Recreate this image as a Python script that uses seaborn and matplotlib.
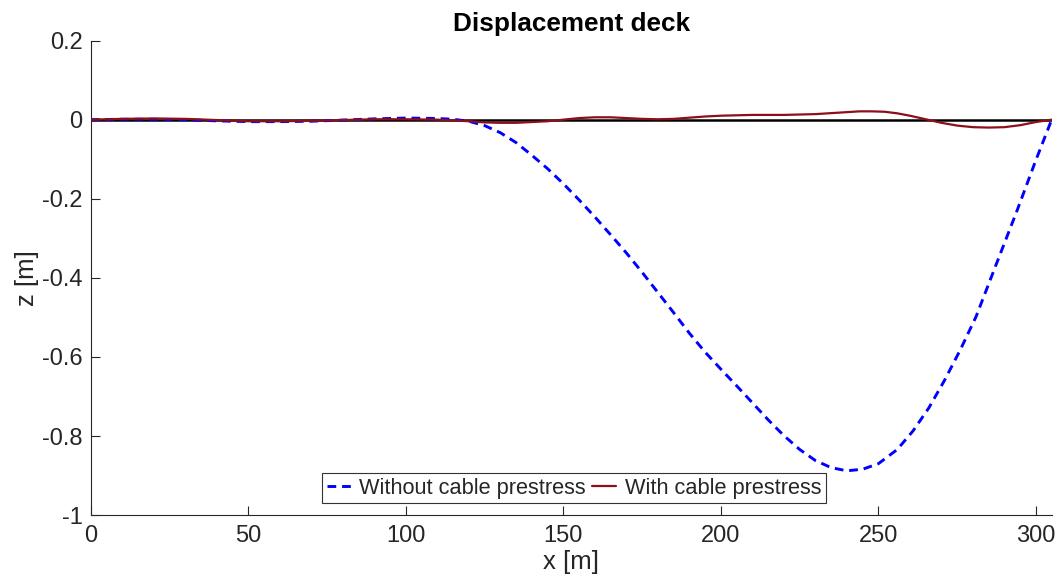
import matplotlib
matplotlib.use("Agg")
import matplotlib.pyplot as plt
import pandas as pd
import seaborn as sns

# Deck positions along the span [m] and vertical displacement [m]
x_no_prestress = [0, 10, 20, 30, 40, 50, 60, 70, 80, 90, 100, 110, 115, 120, 125,
                  130, 135, 140, 145, 150, 155, 160, 165, 170, 175, 180, 185, 190,
                  195, 200, 205, 210, 215, 220, 225, 230, 235, 240, 245, 250, 256,
                  261, 266, 271, 276, 281, 287, 294, 300, 305]
z_no_prestress = [0.0, 0.001, 0.001, 0.0, -0.003, -0.005, -0.005, -0.004, -0.001,
                  0.002, 0.004, 0.003, 0.001, -0.004, -0.015, -0.033, -0.058,
                  -0.090, -0.124, -0.162, -0.203, -0.246, -0.291, -0.337, -0.386,
                  -0.437, -0.488, -0.540, -0.588, -0.631, -0.673, -0.716, -0.759,
                  -0.799, -0.834, -0.862, -0.880, -0.888, -0.884, -0.870, -0.834,
                  -0.787, -0.729, -0.659, -0.582, -0.498, -0.374, -0.230, -0.102,
                  0.0]

x_prestress = [0, 10, 20, 30, 40, 50, 60, 70, 80, 90, 100, 110, 115, 120, 125, 130,
               135, 140, 145, 150, 155, 160, 165, 170, 175, 180, 185, 190, 195, 200,
               210, 220, 230, 236, 240, 244, 248, 252, 256, 260, 265, 270, 275, 280,
               285, 290, 295, 300, 305]
z_prestress = [0.0, 0.002, 0.003, 0.002, -0.001, -0.004, -0.004, -0.003, -0.001,
               0.001, 0.001, 0.0, -0.002, -0.004, -0.007, -0.008, -0.008, -0.006,
               -0.004, 0.0, 0.004, 0.006, 0.006, 0.004, 0.002, 0.001, 0.002, 0.005,
               0.008, 0.010, 0.012, 0.012, 0.014, 0.017, 0.019, 0.021, 0.021, 0.020,
               0.016, 0.010, 0.001, -0.008, -0.015, -0.019, -0.020, -0.019, -0.014,
               -0.006, 0.0]

# Undeformed deck reference line
x_deck = [0, 305]
z_deck = [0.0, 0.0]

x_ticks = [0, 50, 100, 150, 200, 250, 300]
y_ticks = [-1.0, -0.8, -0.6, -0.4, -0.2, 0.0, 0.2]
y_tick_labels = ["-1", "-0.8", "-0.6", "-0.4", "-0.2", "0", "0.2"]

sns.set_theme(style="ticks")
plt.rcParams["font.family"] = ["Liberation Sans", "DejaVu Sans"]
plt.rcParams["axes.unicode_minus"] = False

axis_grey = "#262626"

fig = plt.figure(figsize=(10.59, 5.88), dpi=100)
ax = fig.add_axes([0.0857, 0.124, 0.9074, 0.807])

df_no = pd.DataFrame({"x": x_no_prestress, "z": z_no_prestress})
df_pre = pd.DataFrame({"x": x_prestress, "z": z_prestress})
df_deck = pd.DataFrame({"x": x_deck, "z": z_deck})

sns.lineplot(data=df_deck, x="x", y="z", ax=ax, color="black", linewidth=1.8,
             legend=False, sort=False, zorder=2)
sns.lineplot(data=df_no, x="x", y="z", ax=ax, color="#0000ff", linewidth=2.1,
             sort=False, label="Without cable prestress", zorder=3)
ax.lines[-1].set_dashes((3.0, 2.0))
sns.lineplot(data=df_pre, x="x", y="z", ax=ax, color="#8c0f1b", linewidth=1.6,
             sort=False, label="With cable prestress", zorder=4)

ax.set_xlim(0, 305)
ax.set_ylim(-1.0, 0.2)
ax.set_xticks(x_ticks)
ax.set_xticklabels([str(t) for t in x_ticks])
ax.set_yticks(y_ticks)
ax.set_yticklabels(y_tick_labels)

ax.tick_params(axis="both", direction="in", length=6.3, width=0.8,
               color=axis_grey, labelcolor=axis_grey, labelsize=17)
ax.tick_params(axis="x", pad=7)
ax.tick_params(axis="y", pad=6)

for side in ("top", "right"):
    ax.spines[side].set_visible(False)
for side in ("left", "bottom"):
    ax.spines[side].set_color(axis_grey)
    ax.spines[side].set_linewidth(0.8)

ax.set_xlabel("x [m]", fontsize=18.5, color=axis_grey, labelpad=2)
ax.set_ylabel("z [m]", fontsize=18.5, color=axis_grey, labelpad=2)
ax.set_title("Displacement deck", fontsize=18.8, fontweight="bold",
             color="black", pad=7)

leg = ax.legend(loc="lower center", bbox_to_anchor=(0.503, 0.0), ncol=2,
                fontsize=15.7, frameon=True, fancybox=False, framealpha=1,
                edgecolor="#333333", handlelength=1.1, handletextpad=0.4,
                columnspacing=0.3, borderpad=0.2, borderaxespad=0.55)
leg.get_frame().set_linewidth(0.8)

fig.savefig("out.png", dpi=100)
